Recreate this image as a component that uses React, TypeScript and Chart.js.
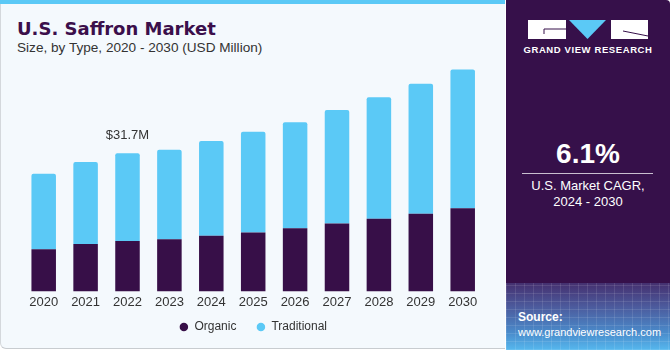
import React, { useEffect, useRef } from "react";
import { Chart, registerables } from "chart.js";

Chart.register(...registerables);

const years = ["2020", "2021", "2022", "2023", "2024", "2025", "2026", "2027", "2028", "2029", "2030"];
const organic = [9.7, 10.9, 11.6, 12.0, 12.8, 13.5, 14.5, 15.6, 16.7, 17.8, 19.1];
const traditional = [17.3, 18.8, 20.1, 20.5, 21.7, 23.1, 24.3, 26.0, 27.8, 29.8, 31.8];
const highlightIndex = 2;
const highlightLabel = "$31.7M";

const PURPLE = "#370f48";
const BLUE = "#5bc9f6";
const FONT = "'Liberation Sans', Arial, sans-serif";
const LEGEND_SHIFT = 10;

const labelPlugin = {
  id: "topLabel",
  beforeInit(chart: any) {
    const lg = chart.legend;
    if (!lg) return;
    const fit0 = lg.fit;
    lg.fit = function (...args: any[]) {
      fit0.apply(this, args);
      this.height -= LEGEND_SHIFT;
    };
    const draw0 = lg.draw;
    lg.draw = function (...args: any[]) {
      this.ctx.save();
      this.ctx.translate(0, -LEGEND_SHIFT);
      draw0.apply(this, args);
      this.ctx.restore();
    };
  },
  afterDatasetsDraw(chart: any) {
    const meta = chart.getDatasetMeta(1);
    const bar = meta.data[highlightIndex];
    if (!bar) return;
    const ctx = chart.ctx;
    ctx.save();
    ctx.font = `13px ${FONT}`;
    ctx.fillStyle = "#333333";
    ctx.textAlign = "center";
    ctx.textBaseline = "middle";
    ctx.fillText(highlightLabel, bar.x, bar.y - 18);
    ctx.restore();
  },
};

export default function App() {
  const ref = useRef<HTMLCanvasElement | null>(null);

  useEffect(() => {
    document.body.style.margin = "0";
    if (!ref.current) return;
    const chart = new Chart(ref.current, {
      type: "bar",
      data: {
        labels: years,
        datasets: [
          {
            label: "Organic",
            data: organic,
            backgroundColor: PURPLE,
            borderWidth: 0,
            categoryPercentage: 1,
            barPercentage: 0.585,
          },
          {
            label: "Traditional",
            data: traditional,
            backgroundColor: BLUE,
            borderWidth: 0,
            borderRadius: { topLeft: 2, topRight: 2, bottomLeft: 0, bottomRight: 0 },
            borderSkipped: false,
            categoryPercentage: 1,
            barPercentage: 0.585,
          },
        ],
      },
      options: {
        responsive: false,
        animation: false,
        layout: { padding: { left: 22.75, right: 21.35, top: 29.7, bottom: 7 } },
        scales: {
          x: {
            stacked: true,
            grid: { display: false, drawTicks: false },
            border: { display: false },
            ticks: { color: "#333333", font: { family: FONT, size: 13 }, padding: 3 },
            afterFit(scale: any) {
              scale.height = 19.5;
            },
          },
          y: {
            stacked: true,
            display: false,
            min: 0,
            max: 60,
          },
        },
        plugins: {
          legend: {
            position: "bottom",
            labels: {
              usePointStyle: true,
              pointStyle: "circle",
              boxWidth: 9,
              boxHeight: 6,
              padding: 20,
              color: "#333333",
              font: { family: FONT, size: 12 },
            },
          },
          tooltip: { enabled: false },
        },
      },
      plugins: [labelPlugin],
    });
    return () => chart.destroy();
  }, []);

  return (
    <div style={{ position: "fixed", left: 0, top: 0, width: 670, height: 350, overflow: "hidden", background: "#ffffff", fontFamily: FONT }}>
      <div
        style={{
          position: "absolute",
          left: 0,
          top: 0,
          width: 505,
          height: 349,
          background: "#f4f9fd",
          borderLeft: "1px solid #d4d8dc",
          borderBottom: "1px solid #c8ccd0",
          borderBottomLeftRadius: 6,
          boxSizing: "border-box",
        }}
      />
      <div style={{ position: "absolute", left: 0, top: 0, width: 505, height: 4, background: BLUE }} />
      <div style={{ position: "absolute", left: 17, top: 18, fontFamily: "'DejaVu Sans', sans-serif", fontWeight: 700, fontSize: 18, color: "#3b0f4b", lineHeight: "22px", whiteSpace: "nowrap" }}>
        U.S. Saffron Market
      </div>
      <div style={{ position: "absolute", left: 17, top: 40, fontSize: 13.6, color: "#333333", lineHeight: "16px", whiteSpace: "nowrap" }}>
        Size, by Type, 2020 - 2030 (USD Million)
      </div>
      <canvas ref={ref} width={505} height={350} style={{ position: "absolute", left: 0, top: 0, width: 505, height: 350 }} />

      <div style={{ position: "absolute", left: 506, top: 0, width: 164, height: 350, background: "#36104a", borderTopRightRadius: 4, overflow: "hidden" }}>
        <svg width={164} height={60} style={{ position: "absolute", left: 0, top: 0 }}>
          <rect x={22} y={20} width={38} height={19} fill="#ffffff" />
          <path d="M38 29 H60 M38 29 V34" stroke="#36104a" strokeWidth={1} fill="none" />
          <polygon points="63,20 100,20 81.5,39" fill={BLUE} />
          <rect x={105} y={20} width={37} height={19} fill="#ffffff" />
          <path d="M117 31 L142 36" stroke="#36104a" strokeWidth={1} fill="none" />
        </svg>
        <div style={{ position: "absolute", left: 0, width: 164, top: 44, textAlign: "center", color: "#ffffff", fontWeight: 700, fontSize: 9.5, letterSpacing: 0.6, lineHeight: "12px", whiteSpace: "nowrap" }}>
          GRAND VIEW RESEARCH
        </div>
        <div style={{ position: "absolute", left: 0, width: 164, top: 138, textAlign: "center", color: "#ffffff", fontWeight: 700, fontSize: 28, lineHeight: "32px" }}>
          6.1%
        </div>
        <div style={{ position: "absolute", left: 16, width: 131, top: 173, height: 1, background: "#c9bfd0" }} />
        <div style={{ position: "absolute", left: 0, width: 164, top: 178, textAlign: "center", color: "#ffffff", fontSize: 13, lineHeight: "16px" }}>
          U.S. Market CAGR,
          <br />
          2024 - 2030
        </div>
        <div
          style={{
            position: "absolute",
            left: 0,
            top: 283,
            width: 164,
            height: 67,
            background:
              "repeating-linear-gradient(90deg, rgba(255,255,255,0.10) 0 1px, transparent 1px 9px), repeating-linear-gradient(0deg, rgba(255,255,255,0.10) 0 1px, transparent 1px 8px), linear-gradient(to bottom, #45306f 0%, #4c5a9c 35%, #4a8ccc 75%, #56b8ee 100%)",
          }}
        />
        <div style={{ position: "absolute", left: 12, top: 310, color: "#ffffff", fontWeight: 700, fontSize: 12, lineHeight: "15px" }}>Source:</div>
        <div style={{ position: "absolute", left: 12, top: 325, color: "#ffffff", fontSize: 11, lineHeight: "15px", whiteSpace: "nowrap" }}>www.grandviewresearch.com</div>
      </div>
    </div>
  );
}
